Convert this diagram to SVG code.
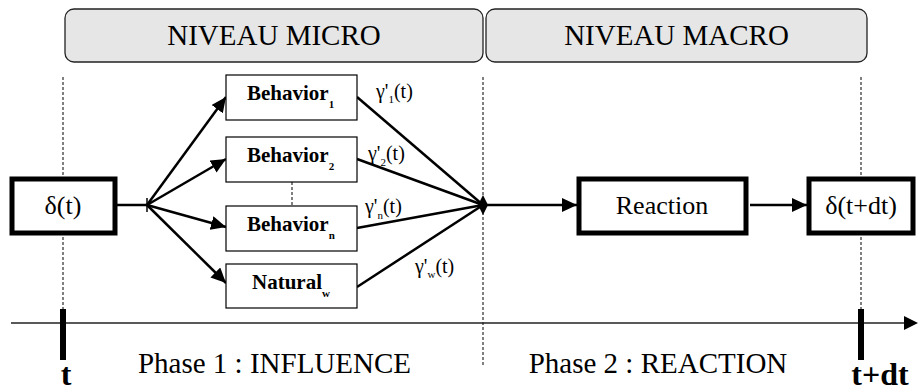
<svg xmlns="http://www.w3.org/2000/svg" width="919" height="391" viewBox="0 0 919 391" font-family="'Liberation Serif', 'Times New Roman', 'DejaVu Serif', serif">
<defs>
<marker id="ah" markerUnits="userSpaceOnUse" markerWidth="16" markerHeight="14" refX="15" refY="7" orient="auto">
<path d="M0,0 L15,7 L0,14 Z" fill="#000"/>
</marker>
<style>
text{font-family:'Liberation Serif','Times New Roman','DejaVu Serif',serif;fill:#000}
.lvl{fill:#e6e6e6;stroke:#222;stroke-width:1.3}
.dash{stroke:#000;stroke-width:1;stroke-dasharray:3,2;fill:none}
.thick{fill:#fff;stroke:#000;stroke-width:5}
.thin{fill:#fff;stroke:#000;stroke-width:1.2}
.conn{stroke:#000;stroke-width:2.5;fill:none}
.big{font-size:29px}
.mid{font-size:26px}
.beh{font-size:21px;font-weight:bold}
.sub{font-size:11px;font-weight:bold}
.gam{font-size:20px}
.gsub{font-size:11px}
.tlab{font-size:32px;font-weight:bold}
</style>
</defs>

<g id="level-micro">
<rect class="lvl" x="65" y="9" width="418" height="53" rx="9"/>
<text class="big" x="274" y="45" text-anchor="middle">NIVEAU MICRO</text>
</g>
<g id="level-macro">
<rect class="lvl" x="486" y="9" width="381" height="53" rx="9"/>
<text class="big" x="676.5" y="45" text-anchor="middle">NIVEAU MACRO</text>
</g>

<g id="guides">
<line class="dash" x1="63" y1="77" x2="63" y2="309"/>
<line class="dash" x1="483" y1="77" x2="483" y2="367"/>
<line class="dash" x1="861" y1="77" x2="861" y2="309"/>
<line class="dash" x1="292" y1="182" x2="292" y2="206"/>
</g>

<g id="timeline">
<line x1="11" y1="323" x2="906" y2="323" stroke="#222" stroke-width="1.5"/>
<path d="M904,316 L918,323 L904,330 Z" fill="#000"/>
<rect x="60" y="309" width="6" height="51" fill="#000"/>
<rect x="858" y="309" width="6" height="51" fill="#000"/>
<text class="tlab" x="66" y="385" text-anchor="middle">t</text>
<text class="tlab" x="880" y="385" text-anchor="middle">t+dt</text>
<text class="big" x="274.5" y="373" text-anchor="middle">Phase 1 : INFLUENCE</text>
<text class="big" x="658" y="373" text-anchor="middle">Phase 2 : REACTION</text>
</g>

<g id="connectors">
<line class="conn" x1="117" y1="205" x2="147" y2="205"/>
<line x1="147" y1="198" x2="147" y2="212" stroke="#000" stroke-width="1.5"/>
<line class="conn" x1="147" y1="205" x2="226" y2="97" marker-end="url(#ah)"/>
<line class="conn" x1="147" y1="205" x2="226" y2="159" marker-end="url(#ah)"/>
<line class="conn" x1="147" y1="205" x2="226" y2="227" marker-end="url(#ah)"/>
<line class="conn" x1="147" y1="205" x2="226" y2="283" marker-end="url(#ah)"/>
<line class="conn" x1="357" y1="97" x2="483" y2="205"/>
<line class="conn" x1="357" y1="159" x2="483" y2="205"/>
<line class="conn" x1="357" y1="228" x2="483" y2="205"/>
<line class="conn" x1="357" y1="287" x2="483" y2="205"/>
<path d="M478,205 L483,195 L488,205 L483,215 Z" fill="#000"/>
<line class="conn" x1="483" y1="205" x2="577" y2="205" marker-end="url(#ah)"/>
<line class="conn" x1="750" y1="205" x2="807" y2="205" marker-end="url(#ah)"/>
<text class="gam" x="376" y="98">γ'<tspan class="gsub" dy="5">1</tspan><tspan dy="-5">(t)</tspan></text>
<text class="gam" x="368" y="160">γ'<tspan class="gsub" dy="6">2</tspan><tspan dy="-6">(t)</tspan></text>
<text class="gam" x="365" y="213">γ'<tspan class="gsub" dy="6">n</tspan><tspan dy="-6">(t)</tspan></text>
<text class="gam" x="415" y="273">γ'<tspan class="gsub" dy="5">w</tspan><tspan dy="-5">(t)</tspan></text>
</g>

<g id="delta-t">
<rect class="thick" x="12" y="179" width="103" height="54"/>
<text class="mid" x="63" y="214" text-anchor="middle">δ(t)</text>
</g>
<g id="behavior-1">
<rect class="thin" x="226" y="75" width="131" height="45"/>
<text class="beh" x="247" y="100">Behavior<tspan class="sub" dy="8">1</tspan></text>
</g>
<g id="behavior-2">
<rect class="thin" x="226" y="137" width="131" height="45"/>
<text class="beh" x="247" y="162">Behavior<tspan class="sub" dy="8">2</tspan></text>
</g>
<g id="behavior-n">
<rect class="thin" x="226" y="206" width="131" height="45"/>
<text class="beh" x="247" y="231">Behavior<tspan class="sub" dy="8">n</tspan></text>
</g>
<g id="natural-w">
<rect class="thin" x="226" y="264" width="131" height="44"/>
<text class="beh" x="252" y="289">Natural<tspan class="sub" dy="8">w</tspan></text>
</g>
<g id="reaction">
<rect class="thick" x="579" y="179" width="167" height="54"/>
<text class="mid" x="662" y="214" text-anchor="middle">Reaction</text>
</g>
<g id="delta-t-dt">
<rect class="thick" x="809" y="179" width="104" height="54"/>
<text class="mid" x="861" y="214" text-anchor="middle">δ(t+dt)</text>
</g>
</svg>
